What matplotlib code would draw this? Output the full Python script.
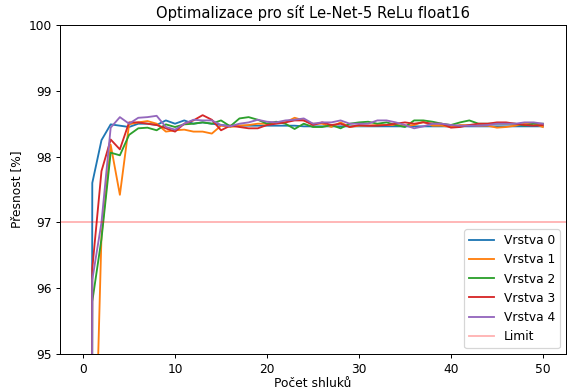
import matplotlib
matplotlib.use("Agg")
import matplotlib.pyplot as plt
import numpy as np

clusters = list(range(0, 51))

vrstva0 = [10.0, 97.6, 98.25, 98.49, 98.47, 98.45, 98.5, 98.5, 98.48, 98.55,
           98.5, 98.55, 98.5, 98.52, 98.5, 98.48, 98.47, 98.47, 98.47, 98.47,
           98.47, 98.47, 98.47, 98.47, 98.46, 98.46, 98.46, 98.46, 98.46, 98.46,
           98.46, 98.46, 98.46, 98.46, 98.46, 98.46, 98.46, 98.46, 98.46, 98.46,
           98.46, 98.46, 98.46, 98.46, 98.46, 98.46, 98.46, 98.46, 98.46, 98.46,
           98.46]
vrstva1 = [10.0, 91.7, 96.8, 98.18, 97.42, 98.49, 98.52, 98.54, 98.5, 98.38,
           98.4, 98.41, 98.38, 98.38, 98.35, 98.47, 98.45, 98.47, 98.48, 98.5,
           98.5, 98.52, 98.52, 98.59, 98.55, 98.5, 98.5, 98.45, 98.52, 98.45,
           98.47, 98.47, 98.48, 98.48, 98.48, 98.47, 98.48, 98.53, 98.47, 98.47,
           98.45, 98.48, 98.48, 98.47, 98.47, 98.44, 98.45, 98.47, 98.5, 98.5,
           98.45]
vrstva2 = [10.0, 95.8, 96.75, 98.06, 98.02, 98.33, 98.43, 98.44, 98.4, 98.49,
           98.45, 98.49, 98.5, 98.52, 98.5, 98.55, 98.46, 98.58, 98.6, 98.56,
           98.5, 98.53, 98.5, 98.42, 98.5, 98.45, 98.45, 98.48, 98.43, 98.5,
           98.52, 98.53, 98.5, 98.52, 98.48, 98.45, 98.55, 98.55, 98.53, 98.5,
           98.48, 98.52, 98.55, 98.5, 98.5, 98.5, 98.5, 98.5, 98.47, 98.5,
           98.5]
vrstva3 = [10.0, 96.3, 97.78, 98.26, 98.11, 98.52, 98.52, 98.5, 98.48, 98.43,
           98.38, 98.5, 98.55, 98.63, 98.56, 98.4, 98.47, 98.45, 98.43, 98.43,
           98.48, 98.5, 98.52, 98.55, 98.55, 98.48, 98.52, 98.48, 98.5, 98.45,
           98.48, 98.47, 98.47, 98.48, 98.5, 98.52, 98.5, 98.52, 98.5, 98.5,
           98.44, 98.45, 98.48, 98.5, 98.5, 98.52, 98.52, 98.5, 98.48, 98.47,
           98.48]
vrstva4 = [10.0, 96.13, 97.0, 98.44, 98.6, 98.5, 98.59, 98.6, 98.62, 98.45,
           98.41, 98.5, 98.56, 98.55, 98.55, 98.48, 98.46, 98.5, 98.52, 98.56,
           98.53, 98.52, 98.55, 98.56, 98.58, 98.5, 98.52, 98.52, 98.55, 98.5,
           98.5, 98.5, 98.55, 98.55, 98.52, 98.48, 98.43, 98.46, 98.5, 98.5,
           98.48, 98.47, 98.47, 98.47, 98.48, 98.5, 98.5, 98.5, 98.52, 98.52,
           98.5]
limit = 97

series = [vrstva0, vrstva1, vrstva2, vrstva3, vrstva4]
labels = ["Vrstva 0", "Vrstva 1", "Vrstva 2", "Vrstva 3", "Vrstva 4"]

DPI = 567 / 6.4
fig = plt.figure(figsize=(6.4, 390 / DPI), dpi=DPI)
ax = fig.add_axes([0.106, 0.092, 0.892, 0.844])
for vals, lab in zip(series, labels):
    ax.plot(clusters, vals, label=lab)
ax.axhline(limit, color="red", alpha=0.3, label="Limit")
ax.set_ylim(95, 100)
ax.set_xlim(-2.5, 52.5)
ax.set_title("Optimalizace pro síť Le-Net-5 ReLu float16")
ax.set_xlabel("Počet shluků", labelpad=1)
ax.set_ylabel("Přesnost [%]")
ax.legend(loc="lower right")
fig.savefig("out.png", dpi=DPI)
